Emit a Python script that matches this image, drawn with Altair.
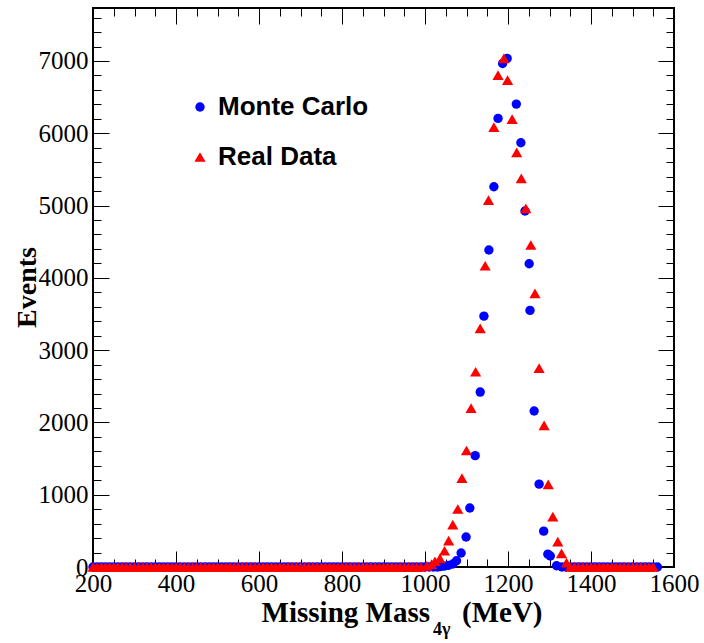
import altair as alt
import pandas as pd

# ---------------- data ----------------
series_names = ["Monte Carlo", "Real Data"]

# points lying on the zero line (x in MeV)
mc_base_x = [200, 210, 220, 230, 240, 250, 260, 270, 280, 290, 300, 310, 320, 330, 340,
             350, 360, 370, 380, 390, 400, 410, 420, 430, 440, 450, 460, 470, 480, 490,
             500, 510, 520, 530, 540, 550, 560, 570, 580, 590, 600, 610, 620, 630, 640,
             650, 660, 670, 680, 690, 700, 710, 720, 730, 740, 750, 760, 770, 780, 790,
             800, 810, 820, 830, 840, 850, 860, 870, 880, 890, 900, 910, 920, 930, 940,
             950, 960, 970, 980, 990, 1000, 1010, 1020, 1030,
             1330, 1340, 1350, 1360, 1370, 1380, 1390, 1400, 1410, 1420, 1430, 1440,
             1450, 1460, 1470, 1480, 1490, 1500, 1510, 1520, 1530, 1540, 1550, 1560]
rd_base_x = [200, 210, 220, 230, 240, 250, 260, 270, 280, 290, 300, 310, 320, 330, 340,
             350, 360, 370, 380, 390, 400, 410, 420, 430, 440, 450, 460, 470, 480, 490,
             500, 510, 520, 530, 540, 550, 560, 570, 580, 590, 600, 610, 620, 630, 640,
             650, 660, 670, 680, 690, 700, 710, 720, 730, 740, 750, 760, 770, 780, 790,
             800, 810, 820, 830, 840, 850, 860, 870, 880, 890, 900, 910, 920, 930, 940,
             950, 960, 970, 980, 990,
             1350, 1360, 1370, 1380, 1390, 1400, 1410, 1420, 1430, 1440, 1450, 1460,
             1470, 1480, 1490, 1500, 1510, 1520, 1530, 1540, 1550]

# Monte Carlo peak
mc_peak_x = [1036, 1046, 1056, 1067, 1076, 1087, 1099, 1108, 1121, 1133, 1142, 1154, 1166,
             1176, 1187, 1198, 1220, 1231, 1241, 1251, 1253, 1263, 1275, 1286, 1296, 1302,
             1317]
mc_peak_y = [5, 12, 22, 41, 87, 194, 415, 816, 1540, 2420, 3470, 4385, 5260,
             6206, 6966, 7036, 6404, 5869, 4924, 4195, 3550, 2158, 1146, 496, 178, 152,
             18]

# Real data peak
rd_peak_x = [1004, 1016, 1024, 1036, 1047, 1057, 1067, 1079, 1089, 1100, 1111, 1122, 1133,
             1145, 1153, 1166, 1176, 1190, 1199, 1210, 1221, 1232, 1243, 1255, 1265, 1275,
             1287, 1297, 1308, 1320, 1329, 1341]
rd_peak_y = [15, 41, 80, 120, 225, 364, 585, 802, 1230, 1612, 2197, 2701, 3302,
             4167, 5076, 6085, 6805, 7036, 6736, 6196, 5736, 5376, 4961, 4454, 3786, 2752,
             1960, 1144, 696, 350, 189, 60]

x_major = [200, 400, 600, 800, 1000, 1200, 1400, 1600]
x_minor = [200, 250, 300, 350, 400, 450, 500, 550, 600, 650, 700, 750, 800, 850, 900, 950,
           1000, 1050, 1100, 1150, 1200, 1250, 1300, 1350, 1400, 1450, 1500, 1550, 1600]
y_major = [0, 1000, 2000, 3000, 4000, 5000, 6000, 7000]
y_minor = [0, 200, 400, 600, 800, 1000, 1200, 1400, 1600, 1800, 2000, 2200, 2400, 2600,
           2800, 3000, 3200, 3400, 3600, 3800, 4000, 4200, 4400, 4600, 4800, 5000, 5200,
           5400, 5600, 5800, 6000, 6200, 6400, 6600, 6800, 7000, 7200, 7400, 7600]

X_DOMAIN = [200, 1600]
Y_DOMAIN = [0, 7733]

# ---------------- table ----------------
rows = []
for x in mc_base_x:
    rows.append({"x": x, "y": 0, "series": series_names[0]})
for x, y in zip(mc_peak_x, mc_peak_y):
    rows.append({"x": x, "y": y, "series": series_names[0]})
for x in rd_base_x:
    rows.append({"x": x, "y": 0, "series": series_names[1]})
for x, y in zip(rd_peak_x, rd_peak_y):
    rows.append({"x": x, "y": y, "series": series_names[1]})
df = pd.DataFrame(rows)

W, H = 581, 559
SERIF = "Liberation Serif"
SANS = "Liberation Sans"

xscale = alt.Scale(domain=X_DOMAIN, nice=False, zero=False)
yscale = alt.Scale(domain=Y_DOMAIN, nice=False, zero=False)

legend = alt.Legend(
    orient="none", legendX=94, legendY=86, title=None,
    labelFont=SANS, labelFontSize=26, labelFontWeight="bold", labelColor="black",
    labelOffset=5, rowPadding=24, padding=0, symbolStrokeWidth=0,
    symbolOpacity=1,
)

points = alt.Chart(df).mark_point(filled=True, opacity=1, clip=False,
                                  strokeWidth=0).encode(
    x=alt.X("x:Q", scale=xscale, axis=alt.Axis(
        orient="bottom", values=x_major, format="d", ticks=False, tickSize=0,
        domain=False, grid=False, title=None, labelFont=SERIF, labelFontSize=25,
        labelColor="black", labelPadding=4, labelFlush=False, labelOverlap=False)),
    y=alt.Y("y:Q", scale=yscale, axis=alt.Axis(
        orient="left", values=y_major, format="d", ticks=False, tickSize=0,
        domain=False, grid=False, labelFont=SERIF, labelFontSize=25,
        labelColor="black", labelPadding=5, labelFlush=False, labelOverlap=False,
        title="Events", titleFont=SERIF, titleFontSize=28, titleFontWeight="bold",
        titleColor="black", titleX=-66, titleY=279, titleAngle=270,
        titleAlign="center", titleBaseline="middle")),
    color=alt.Color("series:N", scale=alt.Scale(domain=series_names,
                                                range=["#0000ff", "#ff0000"]),
                    legend=legend),
    shape=alt.Shape("series:N", scale=alt.Scale(domain=series_names,
                                                range=["circle", "triangle-up"]),
                    legend=legend),
    size=alt.Size("series:N", scale=alt.Scale(domain=series_names,
                                              range=[88, 125]),
                  legend=legend),
    order=alt.Order("series:N", sort="ascending"),
)


def tick_layer(xorient, yorient, xvals, yvals, length):
    return alt.Chart(df).mark_point(opacity=0).encode(
        x=alt.X("x:Q", scale=xscale, axis=alt.Axis(
            orient=xorient, values=xvals, offset=-length, tickSize=length,
            labels=False, domain=False, grid=False, title=None,
            tickColor="black", tickWidth=1)),
        y=alt.Y("y:Q", scale=yscale, axis=alt.Axis(
            orient=yorient, values=yvals, offset=-length, tickSize=length,
            labels=False, domain=False, grid=False, title=None,
            tickColor="black", tickWidth=1)),
    )


t_bot_major = tick_layer("bottom", "left", x_major, y_major, 16)
t_bot_minor = tick_layer("bottom", "left", x_minor, y_minor, 8)
t_top_major = tick_layer("top", "right", x_major, y_major, 16)
t_top_minor = tick_layer("top", "right", x_minor, y_minor, 8)

title_main = alt.Chart(pd.DataFrame({"t": ["Missing Mass"]})).mark_text(
    align="right", baseline="alphabetic", font=SERIF, fontSize=29,
    fontWeight="bold", color="black").encode(
    text="t:N", x=alt.value(337), y=alt.value(614))
title_sub = alt.Chart(pd.DataFrame({"t": ["4γ"]})).mark_text(
    align="left", baseline="alphabetic", font=SERIF, fontSize=18,
    fontWeight="bold", color="black").encode(
    text="t:N", x=alt.value(340), y=alt.value(627))
title_unit = alt.Chart(pd.DataFrame({"t": ["(MeV)"]})).mark_text(
    align="left", baseline="alphabetic", font=SERIF, fontSize=29,
    fontWeight="bold", color="black").encode(
    text="t:N", x=alt.value(369), y=alt.value(614))

chart = alt.layer(
    t_bot_major, t_bot_minor, t_top_major, t_top_minor, points,
    title_main, title_sub, title_unit,
).resolve_axis(
    x="independent", y="independent"
).properties(
    width=W, height=H,
    padding={"left": 93, "top": 8, "right": 30, "bottom": 76},
    autosize=alt.AutoSizeParams(type="none"),
    background="white",
).configure_view(
    stroke="black", strokeWidth=2
)

chart.save("out.html", embed_options={"renderer": "svg", "actions": False})
